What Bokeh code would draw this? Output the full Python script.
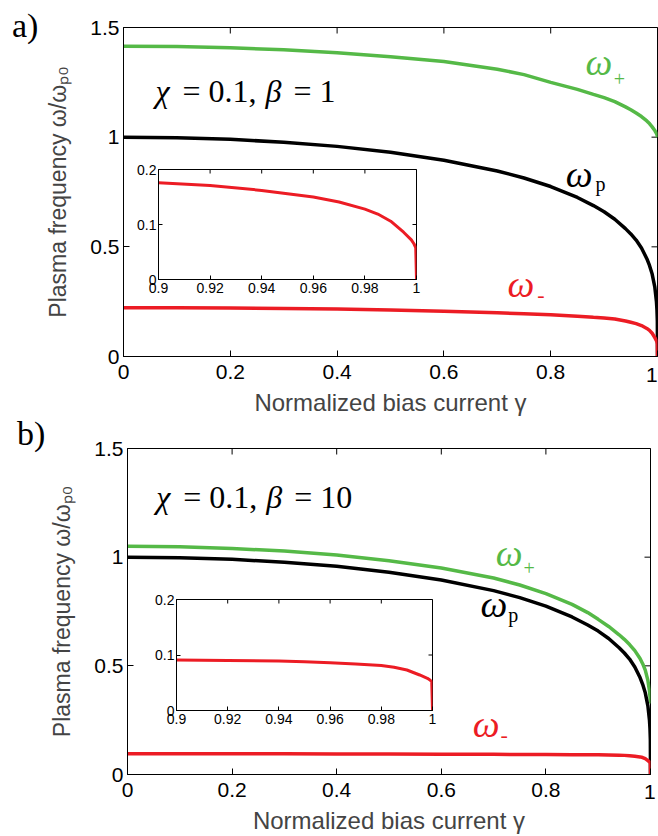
from math import pi

from bokeh.plotting import figure
from bokeh.models import Range1d, FixedTicker, Label, Div
from bokeh.layouts import column
from bokeh.embed import file_html
from bokeh.resources import INLINE

# ---------------- data ----------------
gamma = [0, 0.1, 0.2, 0.3, 0.4, 0.5, 0.6, 0.7, 0.75, 0.8, 0.85, 0.88, 0.9, 0.92,
         0.94, 0.95, 0.96, 0.97, 0.98, 0.985, 0.99, 0.995, 0.998, 0.999, 0.9997, 1.0]

omega_p = [1.0, 0.997, 0.99, 0.977, 0.958, 0.931, 0.895, 0.846, 0.814, 0.775, 0.725,
           0.688, 0.66, 0.626, 0.583, 0.559, 0.531, 0.495, 0.446, 0.415, 0.376, 0.316,
           0.251, 0.211, 0.16, 0.0]

omega_plus_a = [1.415, 1.413, 1.408, 1.398, 1.385, 1.367, 1.345, 1.31, 1.285, 1.25,
                1.218, 1.195, 1.18, 1.162, 1.138, 1.125, 1.11, 1.094, 1.074, 1.062,
                1.047, 1.03, 1.017, 1.011, 1.005, 1.0]

omega_minus_a = [0.222, 0.222, 0.221, 0.219, 0.216, 0.212, 0.206, 0.199, 0.195, 0.19,
                 0.184, 0.179, 0.176, 0.171, 0.162, 0.156, 0.15, 0.141, 0.128, 0.119,
                 0.106, 0.086, 0.072, 0.065, 0.058, 0.0]

omega_plus_b = [1.05, 1.048, 1.04, 1.028, 1.01, 0.984, 0.95, 0.904, 0.872, 0.832,
                0.783, 0.745, 0.714, 0.681, 0.643, 0.622, 0.598, 0.570, 0.534, 0.51,
                0.48, 0.433, 0.385, 0.36, 0.338, 0.327]

omega_minus_b = [0.095, 0.095, 0.095, 0.095, 0.094, 0.094, 0.093, 0.093, 0.092, 0.092,
                 0.091, 0.091, 0.091, 0.090, 0.089, 0.088, 0.086, 0.084, 0.081, 0.078,
                 0.073, 0.064, 0.058, 0.055, 0.052, 0.0]

main_x_ticks = [0, 0.2, 0.4, 0.6, 0.8, 1]
main_x_labels = ["0", "0.2", "0.4", "0.6", "0.8", "1"]
main_y_ticks = [0, 0.5, 1, 1.5]
main_y_labels = ["0", "0.5", "1", "1.5"]
inset_x_ticks = [0.9, 0.92, 0.94, 0.96, 0.98, 1]
inset_x_labels = ["0.9", "0.92", "0.94", "0.96", "0.98", "1"]
inset_y_ticks = [0, 0.1, 0.2]
inset_y_labels = ["0", "0.1", "0.2"]

x_title = "Normalized bias current γ"
y_title = "Plasma frequency ω/ωₚ₀"

GREEN = "#55B947"
RED = "#EC1C24"
SANS = "Liberation Sans"
SERIF = "Liberation Serif"


def setup_axis(ax, ticks, labels, size, standoff, tick_len):
    ax.ticker = FixedTicker(ticks=ticks)
    ax.major_label_overrides = dict(zip(ticks, labels))
    ax.major_label_text_font = SANS
    ax.major_label_text_font_size = size
    ax.major_label_text_color = "black"
    ax.major_label_standoff = standoff
    ax.major_tick_in = tick_len
    ax.major_tick_out = 0
    ax.major_tick_line_color = "black"
    ax.major_tick_line_width = 1
    ax.minor_tick_line_color = None
    ax.axis_line_color = "black"
    ax.axis_line_width = 1


def add_box_ticks(p, xt, yt, xr, yr, tick_len):
    # inward ticks on the top and right edges (outer halves are clipped by the frame)
    p.scatter(xt, [yr[1]] * len(xt), marker="dash", size=2 * tick_len, angle=pi / 2,
              line_color="black", line_width=1)
    p.scatter([xr[1]] * len(yt), yt, marker="dash", size=2 * tick_len,
              line_color="black", line_width=1)


def base_fig(width, height, xr, yr, borders):
    left, right, top, bottom = borders
    p = figure(width=width, height=height, x_range=Range1d(*xr), y_range=Range1d(*yr),
               output_backend="svg", toolbar_location=None, frame_align=False,
               min_border_left=left, min_border_right=right,
               min_border_top=top, min_border_bottom=bottom)
    p.grid.visible = False
    p.outline_line_color = "black"
    p.outline_line_width = 1
    p.outline_line_alpha = 1
    return p


def make_labeler(p, px_per_unit):
    def lab(x, y, text, color, size, style="normal", x_offset=0):
        # raise the anchor so that the glyph baseline falls on the given y
        y_adj = y + 0.37 * size / px_per_unit
        p.add_layout(Label(x=x, y=y_adj, text=text, text_color=color, text_font=SERIF,
                           text_font_size=f"{size}px", text_font_style=style,
                           x_offset=x_offset, text_baseline="alphabetic",
                           text_align="left"))
    return lab


def make_panel(param_value, param_xy, plus, minus, lab_pos, borders):
    xr, yr = (0, 1), (0, 1.5)
    p = base_fig(658, 418, xr, yr, borders)
    p.background_fill_color = "white"
    p.border_fill_color = "white"
    # the last x tick label ("1") sits at the window edge; it is drawn as a
    # separate text element so that it stays inside the window
    bottom_labels = main_x_labels[:-1] + [""]
    setup_axis(p.xaxis[0], main_x_ticks, bottom_labels, "21px", 8, 6)
    setup_axis(p.yaxis[0], main_y_ticks, main_y_labels, "21px", 4, 6)
    p.xaxis.axis_label = x_title
    p.xaxis.axis_label_text_font = SANS
    p.xaxis.axis_label_text_font_size = "24px"
    p.xaxis.axis_label_text_font_style = "normal"
    p.xaxis.axis_label_standoff = 7
    p.yaxis.axis_label = y_title
    p.yaxis.axis_label_text_font = SANS
    p.yaxis.axis_label_text_font_size = "23px"
    p.yaxis.axis_label_text_font_style = "normal"
    p.yaxis.axis_label_standoff = 16
    add_box_ticks(p, main_x_ticks, main_y_ticks, xr, yr, 6)

    p.line(gamma, plus, color=GREEN, line_width=3.5)
    p.line(gamma, omega_p, color="black", line_width=3.5)
    p.line(gamma, minus, color=RED, line_width=3.5)

    frame_h = 418 - borders[2] - borders[3]
    lab = make_labeler(p, frame_h / (yr[1] - yr[0]))
    px, py = param_xy
    lab(px, py, "χ", "black", 32, style="italic")
    lab(px, py, "= 0.1,", "black", 32, x_offset=27)
    lab(px, py, "β", "black", 32, style="italic", x_offset=110)
    lab(px, py, "= " + param_value, "black", 32, x_offset=138)

    (pw, ps), (bw, bs), (mw, ms) = lab_pos
    lab(pw[0], pw[1], "ω", GREEN, 38, style="italic")
    lab(ps[0], ps[1], "+", GREEN, 20)
    lab(bw[0], bw[1], "ω", "black", 38, style="italic")
    lab(bs[0], bs[1], "p", "black", 20)
    lab(mw[0], mw[1], "ω", RED, 38, style="italic")
    lab(ms[0], ms[1], "-", RED, 22)
    return p


def make_inset(minus, frame_w, frame_h, left_px, top_px):
    bl, br, bt, bb = 30, 6, 8, 24
    xr, yr = (0.9, 1.0), (0, 0.2)
    p = base_fig(bl + frame_w + br, bt + frame_h + bb, xr, yr, (bl, br, bt, bb))
    p.background_fill_color = "white"
    p.border_fill_alpha = 0
    setup_axis(p.xaxis[0], inset_x_ticks, inset_x_labels, "14px", 3, 4)
    setup_axis(p.yaxis[0], inset_y_ticks, inset_y_labels, "14px", 2, 4)
    add_box_ticks(p, inset_x_ticks, inset_y_ticks, xr, yr, 4)
    p.line(gamma, minus, color=RED, line_width=3)
    p.styles = {"position": "absolute", "left": f"{left_px - bl}px", "top": f"{top_px - bt}px"}
    return p


def html_text(text, left_px, top_px, family, size, w, h):
    return Div(text=f'<span style="font-family:\'{family}\';font-size:{size}px;'
                    f'line-height:1;color:black;white-space:nowrap">{text}</span>',
               width=w, height=h,
               styles={"position": "absolute", "left": f"{left_px}px", "top": f"{top_px}px",
                       "margin": "0", "padding": "0", "line-height": "1"})


pa = make_panel("1", (0.06, 1.156), omega_plus_a, omega_minus_a,
                (((0.865, 1.277), (0.918, 1.232)),
                 ((0.828, 0.768), (0.884, 0.755)),
                 ((0.719, 0.268), (0.775, 0.245))),
                (123, 1, 27, 62))

pb = make_panel("10", (0.055, 1.223), omega_plus_b, omega_minus_b,
                (((0.704, 0.953), (0.757, 0.915)),
                 ((0.675, 0.718), (0.728, 0.700)),
                 ((0.660, 0.166), (0.713, 0.142))),
                (127, 8, 30, 62))

ia = make_inset(omega_minus_a, 258, 110, 158, 169)
ib = make_inset(omega_minus_b, 256, 111, 176, 599)
ta = html_text("a)", 12, 9, SERIF, 34, 50, 40)
tb = html_text("b)", 17, 417, SERIF, 34, 50, 40)
one_a = html_text(main_x_labels[-1], 646, 364, SANS, 21, 12, 24)
one_b = html_text(main_x_labels[-1], 644, 781, SANS, 21, 12, 24)

layout = column(pa, pb, ia, ib, ta, tb, one_a, one_b, spacing=0)
open("out.html", "w").write(file_html(layout, INLINE))
